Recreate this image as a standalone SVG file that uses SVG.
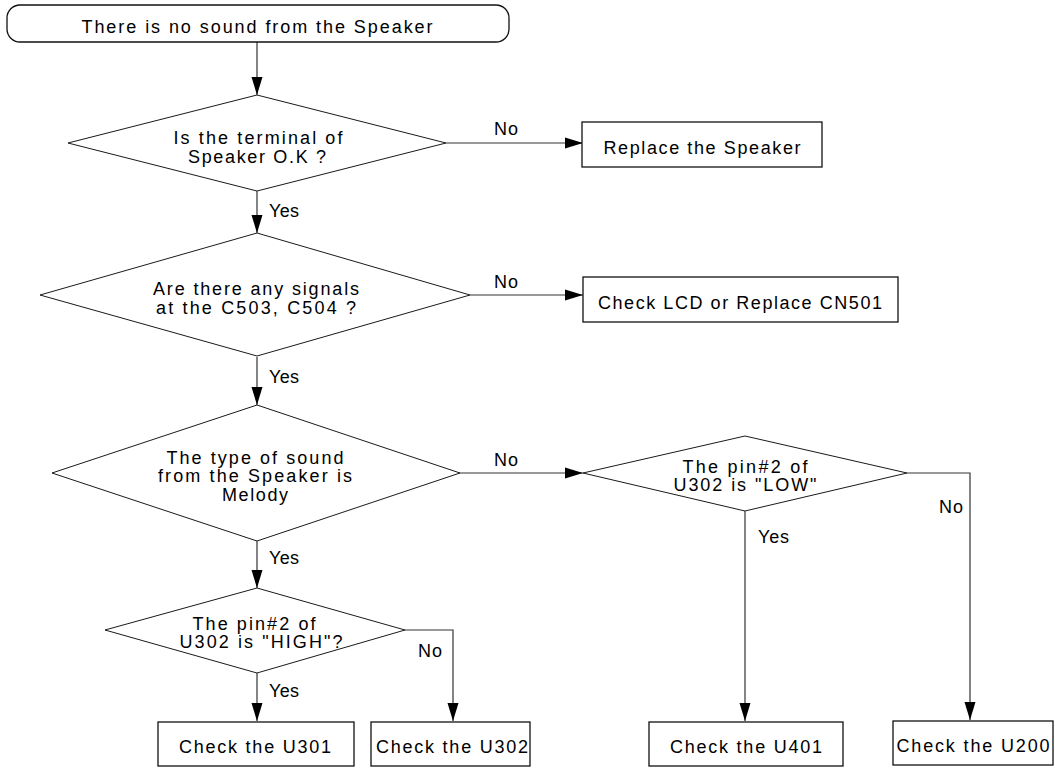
<svg xmlns="http://www.w3.org/2000/svg" width="1055" height="768" viewBox="0 0 1055 768">
<defs>
<marker id="ah" markerUnits="userSpaceOnUse" markerWidth="18" markerHeight="12" refX="18" refY="6" orient="auto">
<path d="M0,0.5 L18,6 L0,11.5 z" fill="#000"/>
</marker>
<style>
.sh{fill:#fff;stroke:#1a1a1a;stroke-width:1}
.bx{fill:#fff;stroke:#111;stroke-width:1.3}
.t{font-family:"Liberation Sans",Arial,sans-serif;font-size:18px;fill:#000;text-anchor:middle}
.l{font-family:"Liberation Sans",Arial,sans-serif;font-size:18px;fill:#000}
.c{fill:none;stroke:#333;stroke-width:1.2}
.ca{fill:none;stroke:#333;stroke-width:1.2;marker-end:url(#ah)}
</style>
</defs>
<rect width="1055" height="768" fill="#fff"/>

<g id="connectors">
<line class="ca" x1="257" y1="42" x2="257" y2="95"/>
<line class="ca" x1="446" y1="143" x2="583" y2="143"/>
<line class="ca" x1="257" y1="191" x2="257" y2="233"/>
<line class="ca" x1="470" y1="295" x2="583" y2="295"/>
<line class="ca" x1="257" y1="357" x2="257" y2="405"/>
<line class="ca" x1="460" y1="473" x2="583" y2="473"/>
<line class="ca" x1="257" y1="541" x2="257" y2="588"/>
<polyline class="ca" points="405,630 453,630 453,721"/>
<line class="ca" x1="257" y1="673" x2="257" y2="721"/>
<line class="ca" x1="745" y1="511" x2="745" y2="721"/>
<polyline class="ca" points="907,473 970,473 970,720"/>
<text class="l" x="494" y="135" textLength="24" lengthAdjust="spacing">No</text>
<text class="l" x="269" y="217" textLength="30" lengthAdjust="spacing">Yes</text>
<text class="l" x="494" y="288" textLength="24" lengthAdjust="spacing">No</text>
<text class="l" x="269" y="383" textLength="30" lengthAdjust="spacing">Yes</text>
<text class="l" x="494" y="466" textLength="24" lengthAdjust="spacing">No</text>
<text class="l" x="269" y="564" textLength="30" lengthAdjust="spacing">Yes</text>
<text class="l" x="418" y="657" textLength="24" lengthAdjust="spacing">No</text>
<text class="l" x="269" y="697" textLength="30" lengthAdjust="spacing">Yes</text>
<text class="l" x="758" y="543" textLength="31" lengthAdjust="spacing">Yes</text>
<text class="l" x="939" y="513" textLength="24" lengthAdjust="spacing">No</text>
</g>

<g id="start">
<rect class="bx" x="7" y="5" width="502" height="37" rx="13" ry="13"/>
<text class="t" x="257" y="33" textLength="351" lengthAdjust="spacing">There is no sound from the Speaker</text>
</g>

<g id="d1">
<polygon class="sh" points="257,95 446,143 257,191 68,143"/>
<text class="t" x="258" y="144" textLength="169" lengthAdjust="spacing">Is the terminal of</text>
<text class="t" x="257" y="163" textLength="138" lengthAdjust="spacing">Speaker O.K ?</text>
</g>

<g id="replace-speaker">
<rect class="bx" x="582" y="122" width="240" height="45"/>
<text class="t" x="702" y="154" textLength="197" lengthAdjust="spacing">Replace the Speaker</text>
</g>

<g id="d2">
<polygon class="sh" points="257,233 470,295 257,356 40,295"/>
<text class="t" x="256" y="295" textLength="206" lengthAdjust="spacing">Are there any signals</text>
<text class="t" x="256" y="314" textLength="200" lengthAdjust="spacing">at the C503, C504 ?</text>
</g>

<g id="check-lcd">
<rect class="bx" x="583" y="277" width="315" height="45"/>
<text class="t" x="740" y="309" textLength="284" lengthAdjust="spacing">Check LCD or Replace CN501</text>
</g>

<g id="d3">
<polygon class="sh" points="257,405 460,473 257,541 52,473"/>
<text class="t" x="255" y="464" textLength="177" lengthAdjust="spacing">The type of sound</text>
<text class="t" x="255" y="482" textLength="194" lengthAdjust="spacing">from the Speaker is</text>
<text class="t" x="255" y="501" textLength="66" lengthAdjust="spacing">Melody</text>
</g>

<g id="d4">
<polygon class="sh" points="745,436 907,473 745,511 583,473"/>
<text class="t" x="745" y="473" textLength="125" lengthAdjust="spacing">The pin#2 of</text>
<text class="t" x="745" y="491" textLength="143" lengthAdjust="spacing">U302 is "LOW"</text>
</g>

<g id="d5">
<polygon class="sh" points="257,588 405,630 257,673 105,630"/>
<text class="t" x="254" y="630" textLength="123" lengthAdjust="spacing">The pin#2 of</text>
<text class="t" x="261" y="648" textLength="163" lengthAdjust="spacing">U302 is "HIGH"?</text>
</g>

<g id="u301">
<rect class="bx" x="158" y="722" width="196" height="44"/>
<text class="t" x="255" y="753" textLength="152" lengthAdjust="spacing">Check the U301</text>
</g>

<g id="u302">
<rect class="bx" x="371" y="722" width="159" height="44"/>
<text class="t" x="452" y="753" textLength="152" lengthAdjust="spacing">Check the U302</text>
</g>

<g id="u401">
<rect class="bx" x="649" y="722" width="194" height="44"/>
<text class="t" x="746" y="753" textLength="152" lengthAdjust="spacing">Check the U401</text>
</g>

<g id="u200">
<rect class="bx" x="893" y="721" width="160" height="44"/>
<text class="t" x="973" y="752" textLength="153" lengthAdjust="spacing">Check the U200</text>
</g>
</svg>
